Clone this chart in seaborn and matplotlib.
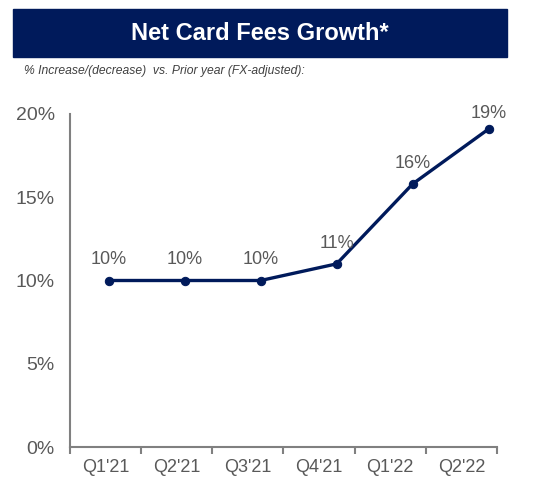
import numpy as np
import pandas as pd
import matplotlib
matplotlib.use("Agg")
import matplotlib.pyplot as plt
import seaborn as sns

# data
quarters = ["Q1'21", "Q2'21", "Q3'21", "Q4'21", "Q1'22", "Q2'22"]
growth = [10.0, 10.0, 10.0, 11.0, 15.8, 19.1]
labels = ["10%", "10%", "10%", "11%", "16%", "19%"]
yticks = [0, 5, 10, 15, 20]

navy = "#001A5B"
grey_txt = "#595959"
spine = "#808080"

sns.set_style("white")
plt.rcParams["font.family"] = ["Liberation Sans", "DejaVu Sans"]

df = pd.DataFrame({"pos": np.arange(len(quarters)), "growth": growth})

fig = plt.figure(figsize=(5.55, 4.97), dpi=100)

# title banner
fig.patches.append(plt.Rectangle((13 / 555, 1 - 57 / 497), 494 / 555, 48 / 497,
                                 transform=fig.transFigure, color=navy, zorder=0))
fig.text(260 / 555, 1 - 33 / 497, "Net Card Fees Growth*", color="white",
         fontsize=17, fontweight="bold", ha="center", va="center")
fig.text(24 / 555, 1 - 71 / 497, "% Increase/(decrease)  vs. Prior year (FX-adjusted):",
         color="#404040", fontsize=8.7, style="italic", ha="left", va="center")

ax = fig.add_axes([70 / 555, 50 / 497, 427 / 555, 333 / 497])
ax.set_xlim(-0.5, len(quarters) - 0.5)
ax.set_ylim(0, 20)
ax.set_xticks(np.arange(len(quarters)))
ax.set_xticklabels(quarters)
ax.set_xticks(np.arange(len(quarters) + 1) - 0.5, minor=True)
ax.tick_params(axis="x", which="major", length=0, pad=9, labelsize=13, labelcolor=grey_txt)
ax.tick_params(axis="x", which="minor", length=5, width=1.5, color=spine, direction="out")
ax.set_yticks(yticks)
ax.set_yticklabels([f"{v}%" for v in yticks])
ax.tick_params(axis="y", length=5, width=1.5, color=spine, direction="out", pad=6,
               labelsize=14, labelcolor=grey_txt)
for s in ["top", "right"]:
    ax.spines[s].set_visible(False)
for s in ["left", "bottom"]:
    ax.spines[s].set_color(spine)
    ax.spines[s].set_linewidth(1.5)

# line drawn on its own x scale (points sit offset from the category labels)
ax2 = ax.twiny()
sns.lineplot(data=df, x="pos", y="growth", ax=ax2, color=navy, linewidth=2.4,
             marker="o", markersize=6, markeredgecolor=navy)
ax2.set_xlim(-0.51, 5.11)
ax2.set_ylim(0, 20)
ax2.set_xticks([])
ax2.set_xlabel("")
ax2.set_ylabel("")
for s in ax2.spines.values():
    s.set_visible(False)
ax.set_xlabel("")
ax.set_ylabel("")

for x, y, t in zip(df["pos"], df["growth"], labels):
    off = 11 if t == labels[-1] else 15
    ax2.annotate(t, (x, y), xytext=(0, off), textcoords="offset points",
                 ha="center", va="center", fontsize=13, color=grey_txt)

fig.savefig("out.png", dpi=100)
